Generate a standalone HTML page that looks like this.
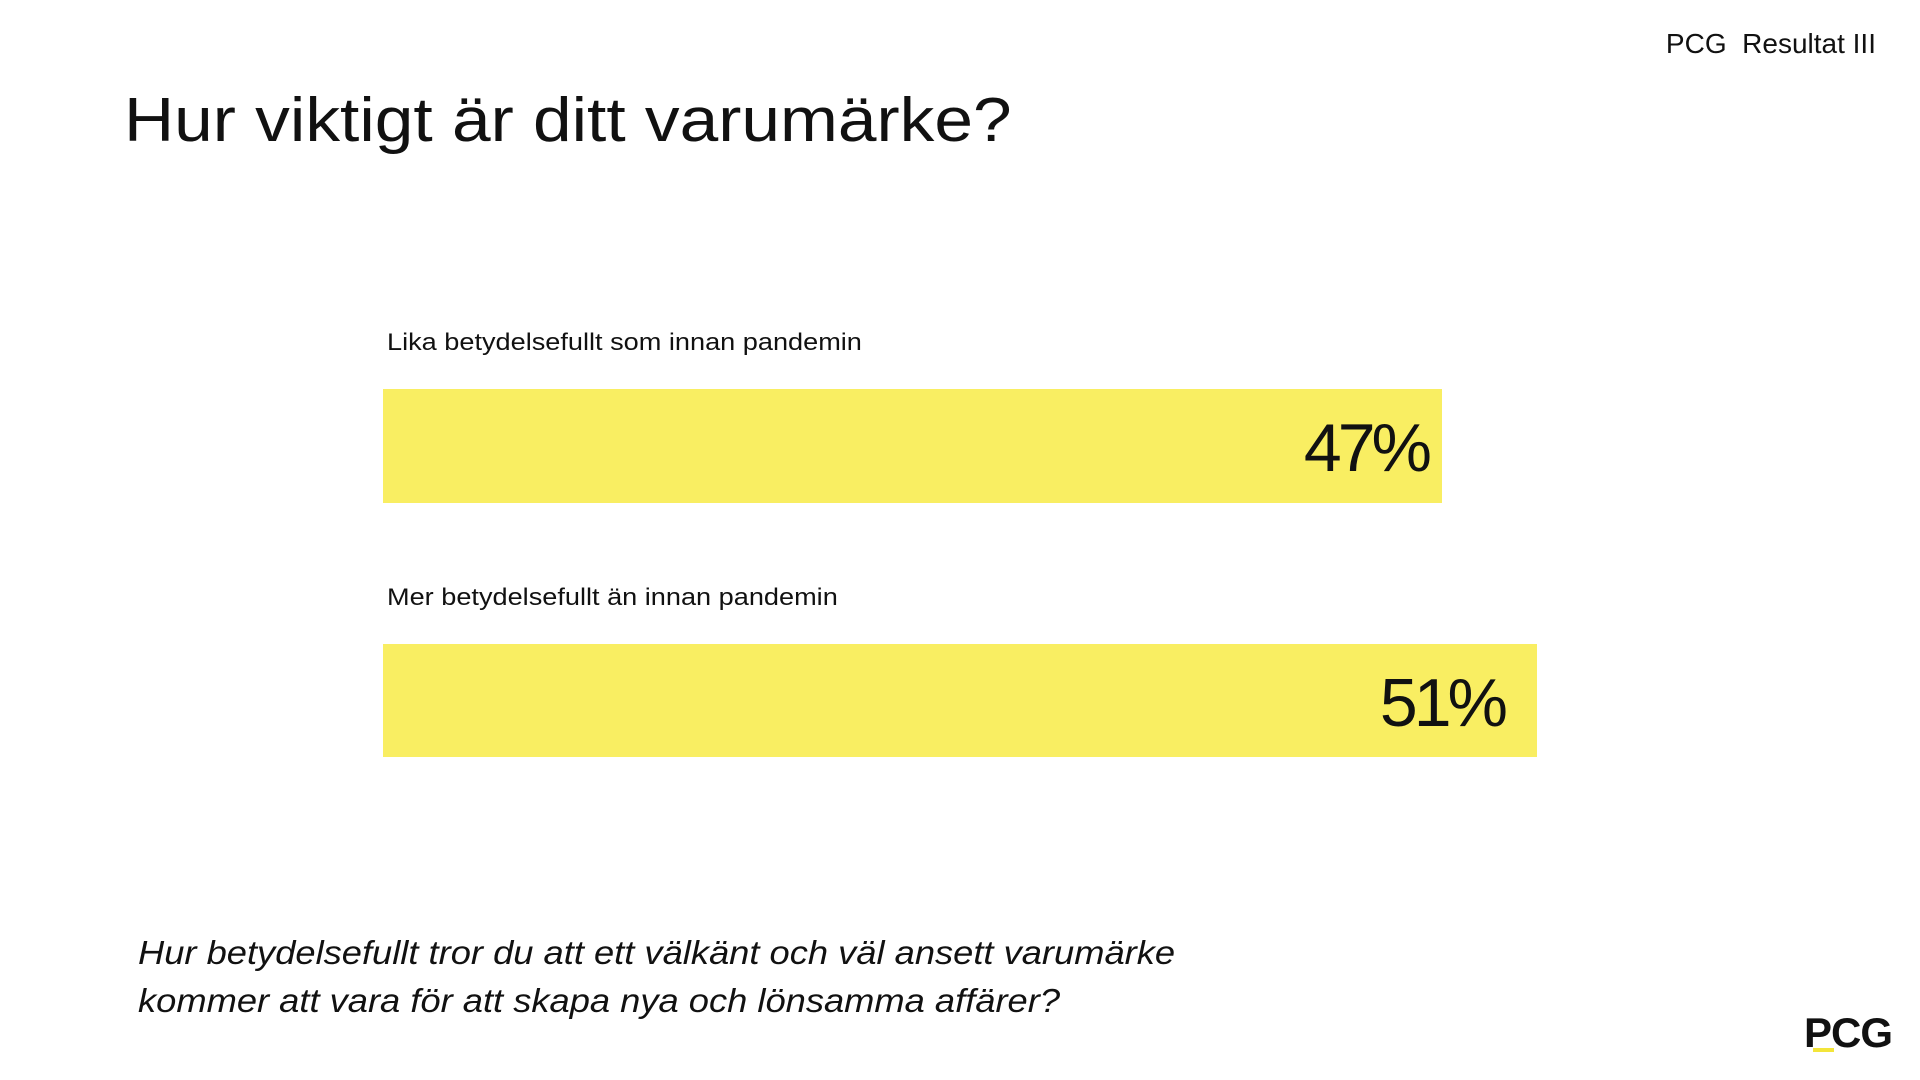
<!DOCTYPE html>
<html><head><meta charset="utf-8"><style>
body{margin:0;width:1920px;height:1080px;background:#fff;position:relative;overflow:hidden;font-family:"Liberation Sans",sans-serif;color:#111}
div{position:absolute;white-space:nowrap}
.bar{background:#F9EE62}
.pct{font-size:68px;letter-spacing:-4px;line-height:1}
.lbl{font-size:24px;line-height:1;transform:scaleX(1.13);transform-origin:left}
</style></head><body>
<div style="right:44px;top:30px;font-size:28px;line-height:1">PCG&nbsp; Resultat III</div>
<div style="left:124px;top:90px;font-size:62px;line-height:1;transform:scaleX(1.12);transform-origin:left">Hur viktigt är ditt varumärke?</div>
<div class="lbl" style="left:387px;top:331px">Lika betydelsefullt som innan pandemin</div>
<div class="bar" style="left:383px;top:389px;width:1059px;height:114px"></div>
<div class="pct" style="right:492px;top:414px">47%</div>
<div class="lbl" style="left:387px;top:586px">Mer betydelsefullt än innan pandemin</div>
<div class="bar" style="left:383px;top:644px;width:1154px;height:113px"></div>
<div class="pct" style="right:416px;top:669px">51%</div>
<div style="left:138px;top:929px;font-size:33px;font-style:italic;line-height:48px;transform:scaleX(1.1);transform-origin:left">Hur betydelsefullt tror du att ett välkänt och väl ansett varumärke<br>kommer att vara för att skapa nya och lönsamma affärer?</div>
<div style="left:1804px;top:1012px;font-size:42px;font-weight:bold;letter-spacing:-1px;line-height:1">PCG</div>
<div style="left:1813px;top:1048px;width:21px;height:4px;background:#F3E53A"></div>
</body></html>
